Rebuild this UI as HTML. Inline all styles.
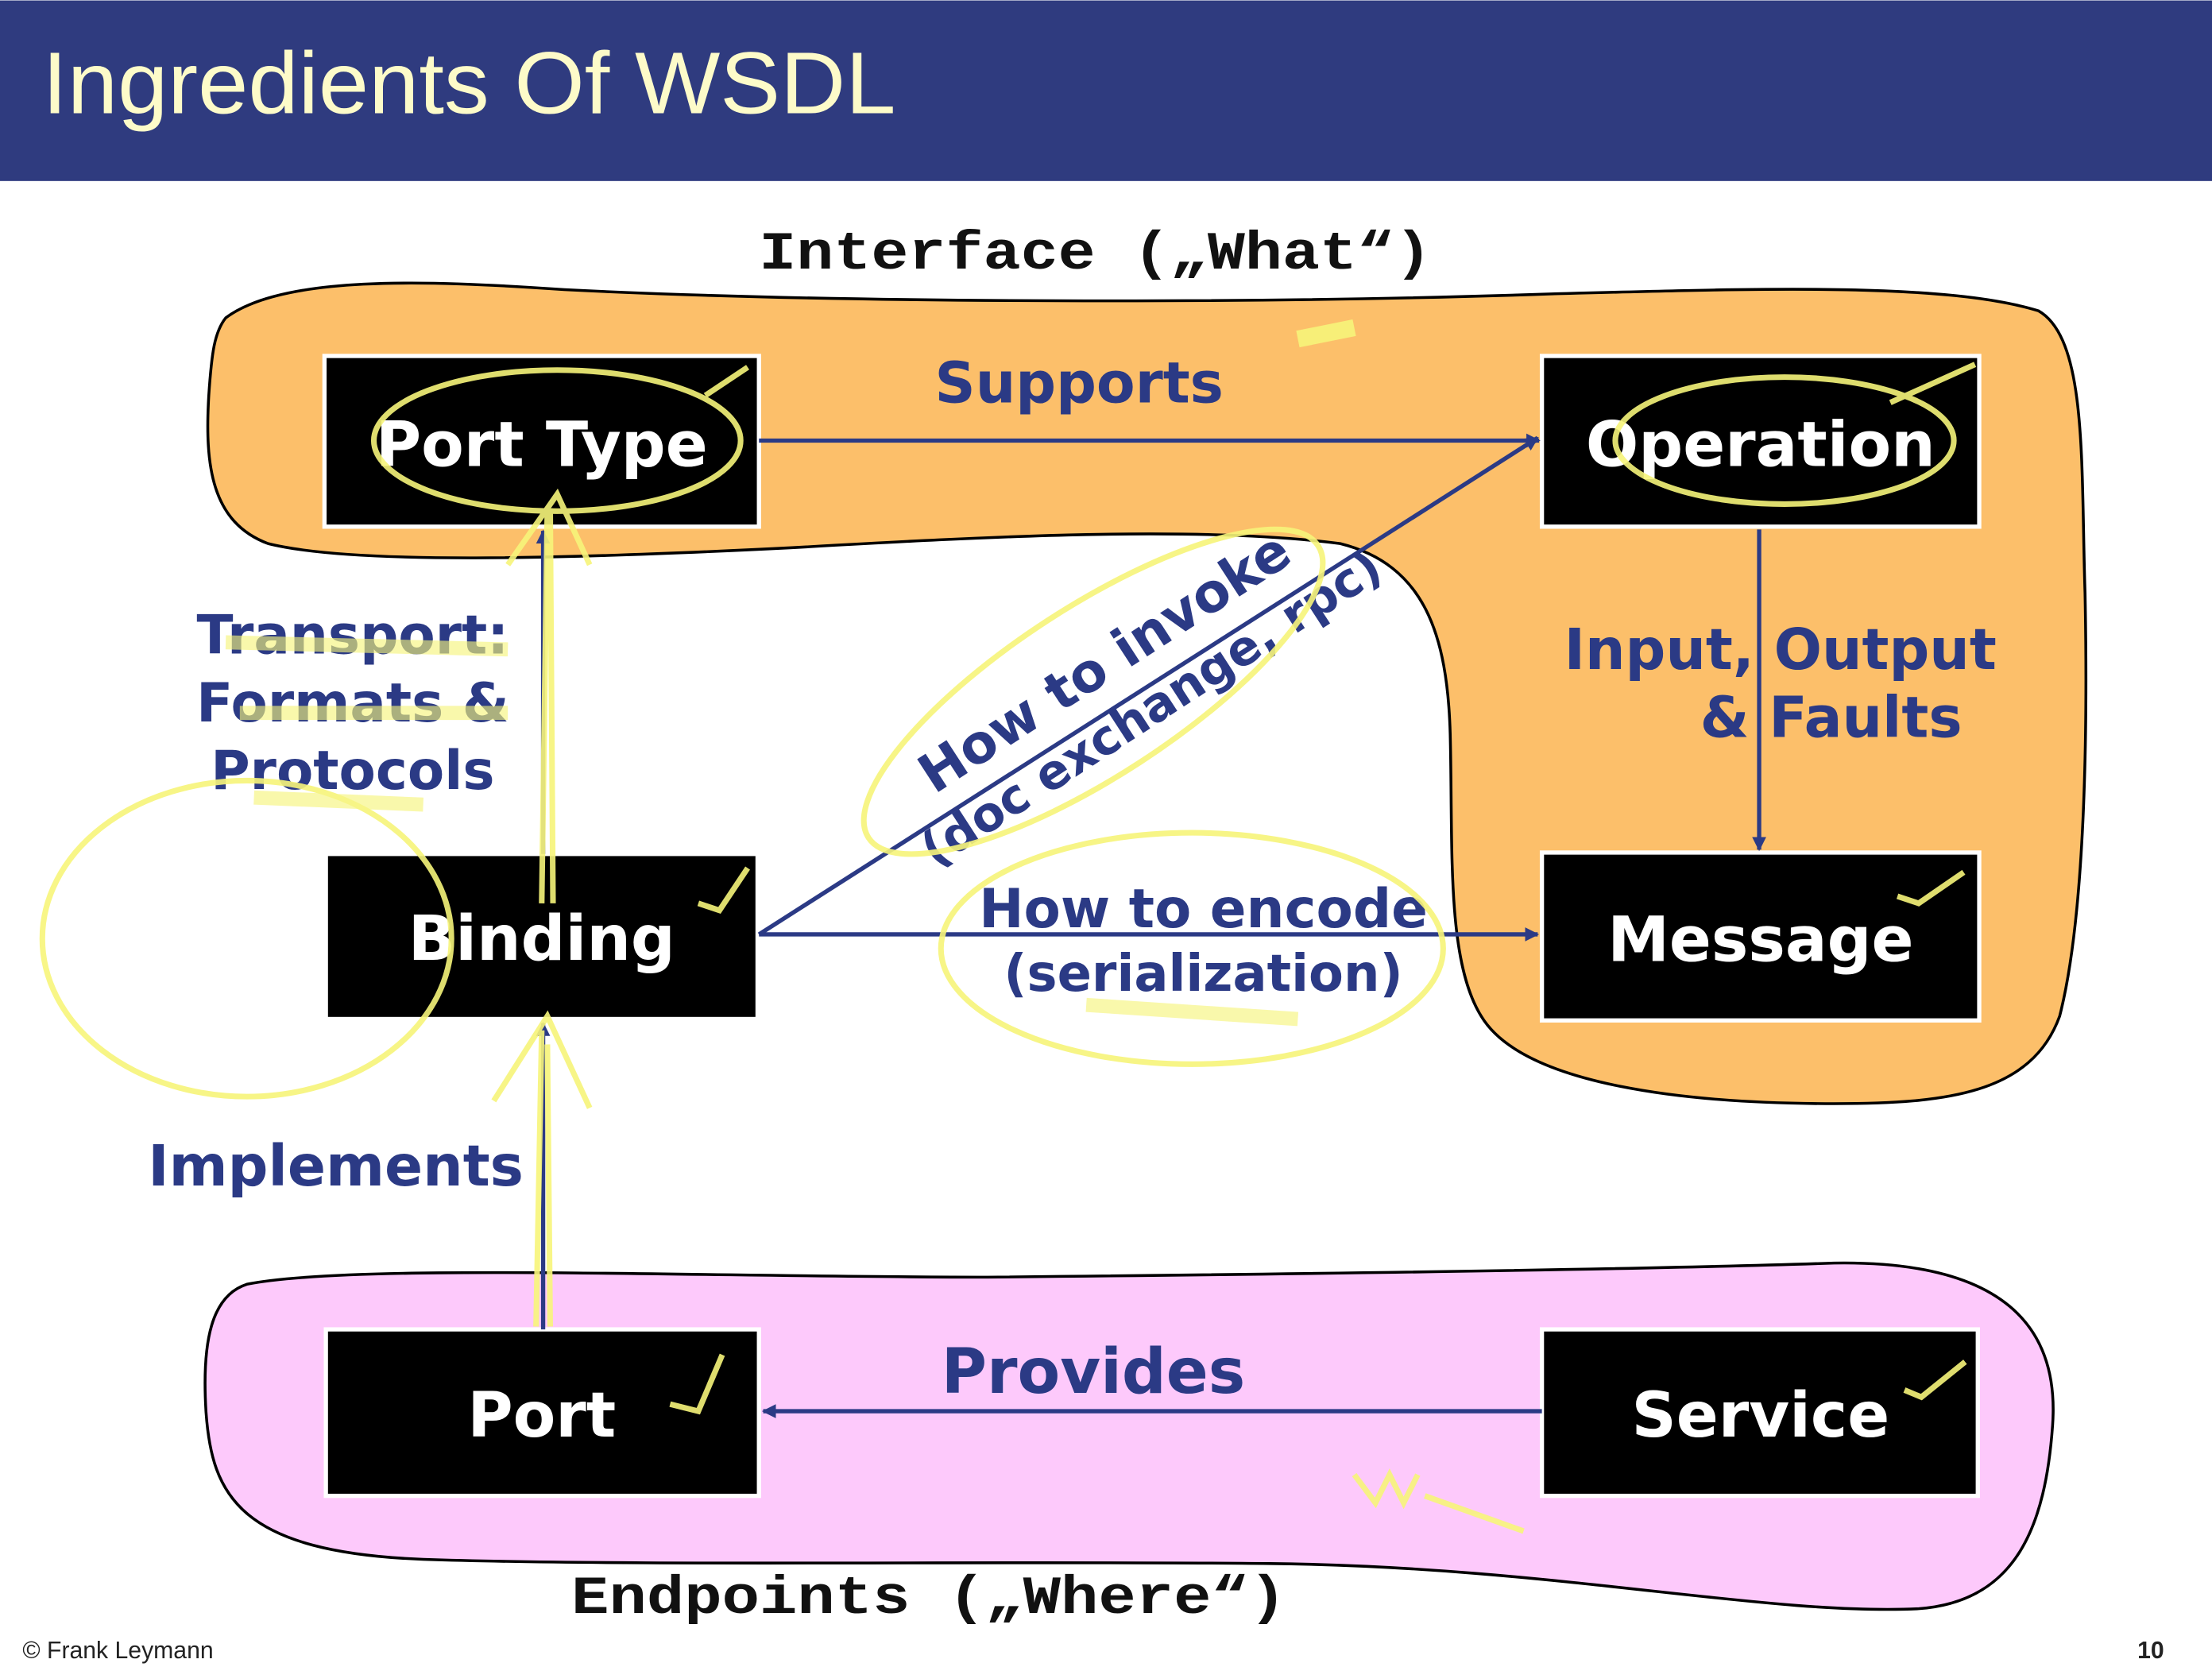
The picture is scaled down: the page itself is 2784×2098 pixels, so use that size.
<!DOCTYPE html>
<html><head><meta charset="utf-8"><style>
html,body{margin:0;padding:0;background:#fff;}
svg{display:block;}
.b{font-family:"DejaVu Sans","Liberation Sans",sans-serif;font-weight:bold;}
.m{font-family:"Liberation Mono",monospace;font-weight:bold;}
</style></head><body>
<svg width="2784" height="2098" viewBox="0 0 1568 1181" xmlns="http://www.w3.org/2000/svg">
<defs>
<marker id="ah" markerWidth="10" markerHeight="10" refX="9" refY="5" orient="auto" markerUnits="userSpaceOnUse">
<path d="M0,0 L10,5 L0,10 z" fill="#2b3a85"/></marker>
</defs>
<rect x="0" y="0" width="1568" height="128" fill="#2f3b7f"/>
<text x="30" y="80" font-family="Liberation Sans, sans-serif" font-size="62" fill="#fdfbc9" textLength="605" lengthAdjust="spacingAndGlyphs">Ingredients Of WSDL</text>

<path d="M160,225 C200,195 300,198 400,205 C600,215 900,215 1100,208 C1250,204 1380,200 1445,220 C1480,240 1475,330 1478,420 C1480,520 1478,650 1460,720 C1440,775 1380,782 1300,782 C1200,782 1080,770 1050,720 C1025,680 1030,600 1028,520 C1026,450 1010,400 950,385 C850,372 700,380 560,388 C400,396 250,400 190,385 C150,370 145,330 148,280 C150,250 152,235 160,225 Z" fill="#fcbf6a" stroke="#000" stroke-width="2"/>
<path d="M175,910 C250,895 500,905 700,905 C900,903 1150,900 1300,895 C1420,893 1460,940 1455,1010 C1450,1080 1430,1135 1360,1140 C1250,1145 1100,1110 900,1108 C700,1106 450,1110 300,1105 C170,1100 150,1060 146,1000 C143,950 150,918 175,910 Z" fill="#fdc9fb" stroke="#000" stroke-width="2"/>

<text x="538" y="190" class="m" font-size="38" fill="#111" textLength="477" lengthAdjust="spacingAndGlyphs">Interface („What“)</text>
<text x="405" y="1143" class="m" font-size="38" fill="#111" textLength="507" lengthAdjust="spacingAndGlyphs">Endpoints („Where“)</text>

<g fill="#000" stroke="#fff" stroke-width="3">
<rect x="230" y="252" width="308" height="121"/>
<rect x="1093" y="252" width="310" height="121"/>
<rect x="231" y="605" width="306" height="117"/>
<rect x="1093" y="604" width="310" height="119"/>
<rect x="231" y="942" width="307" height="118"/>
<rect x="1093" y="942" width="309" height="118"/>
</g>
<g class="b" fill="#fff" font-size="44" text-anchor="middle">
<text x="384" y="330">Port Type</text>
<text x="1248" y="330">Operation</text>
<text x="384" y="680">Binding</text>
<text x="1248" y="681">Message</text>
<text x="384" y="1018">Port</text>
<text x="1248" y="1018">Service</text>
</g>

<g stroke="#2b3a85" stroke-width="3" fill="none" marker-end="url(#ah)">
<line x1="538" y1="312" x2="1091" y2="312"/>
<line x1="1247" y1="375" x2="1247" y2="602"/>
<line x1="385" y1="605" x2="385" y2="376"/>
<line x1="538" y1="662" x2="1090" y2="310"/>
<line x1="538" y1="662" x2="1090" y2="662"/>
<line x1="385" y1="942" x2="385" y2="725"/>
<line x1="1093" y1="1000" x2="541" y2="1000"/>
</g>

<g class="b" fill="#2b3a85">
<text x="765" y="285" text-anchor="middle" font-size="40">Supports</text>
<text x="1262" y="474" text-anchor="middle" font-size="40">Input, Output</text>
<text x="1298" y="522" text-anchor="middle" font-size="40">&amp; Faults</text>
<text x="250" y="463" text-anchor="middle" font-size="38">Transport:</text>
<text x="250" y="511" text-anchor="middle" font-size="38">Formats &amp;</text>
<text x="250" y="559" text-anchor="middle" font-size="38">Protocols</text>
<text x="238" y="840" text-anchor="middle" font-size="40">Implements</text>
<text x="775" y="987" text-anchor="middle" font-size="44">Provides</text>
<text x="853" y="657" text-anchor="middle" font-size="38">How to encode</text>
<text x="853" y="702" text-anchor="middle" font-size="36">(serialization)</text>
<g transform="translate(790,480) rotate(-33)">
<text x="0" y="0" text-anchor="middle" font-size="38">How to invoke</text>
<text x="10" y="44" text-anchor="middle" font-size="34">(doc exchange, rpc)</text>
</g>
</g>

<g fill="none" stroke="#f7f57a" stroke-width="4" opacity="0.9">
<ellipse cx="395" cy="312" rx="130" ry="50"/>
<ellipse cx="1265" cy="312" rx="120" ry="45"/>
<ellipse cx="175" cy="665" rx="145" ry="112"/>
<ellipse cx="845" cy="672" rx="178" ry="82"/>
<ellipse cx="775" cy="490" rx="190" ry="60" transform="rotate(-33 775 490)"/>
<path d="M390,940 L388,740 M380,940 L384,730 M350,780 L388,720 L418,785"/>
<path d="M392,640 L390,360 M384,640 L388,360 M360,400 L395,350 L418,400"/>
<path d="M500,280 L530,260 M495,640 L510,645 L530,615 M475,995 L495,1000 L512,960 M1345,635 L1360,640 L1392,618 M1350,985 L1362,990 L1393,965 M1340,285 L1400,258"/>
<path d="M960,1045 L975,1065 L985,1045 L995,1065 L1005,1045 M1010,1060 L1080,1085"/>
<path d="M160,455 L360,460 M170,505 L360,505 M180,565 L300,570 M770,712 L920,722" stroke-width="10" opacity="0.7"/>
<path d="M920,240 L960,232" stroke-width="12"/>
</g>

<text x="16" y="1175" font-family="Liberation Sans, sans-serif" font-size="17" fill="#222">© Frank Leymann</text>
<text x="1534" y="1175" text-anchor="end" font-family="Liberation Sans, sans-serif" font-weight="bold" font-size="17" fill="#222">10</text>
</svg>
</body></html>
